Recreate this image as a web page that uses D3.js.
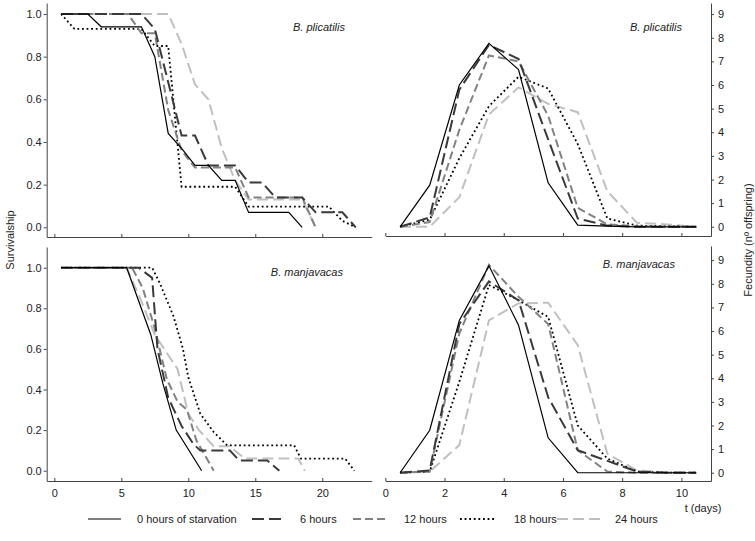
<!DOCTYPE html>
<html>
<head>
<meta charset="utf-8">
<script src="https://cdn.jsdelivr.net/npm/d3@7"></script>
<style>
  body { margin: 0; background: #fff; }
  text { font-family: "Liberation Sans", Arial, sans-serif; }
  .axis path, .axis line { stroke: #444; stroke-width: 1; }
  .axis text { fill: #222; font-size: 11px; }
</style>
</head>
<body>
<script>
// groups (hours of starvation)
var groups = ["0 hours of starvation", "6 hours", "12 hours", "18 hours", "24 hours"];

// survivalship, B. plicatilis: one value per day, first at t = 0.5
var survPlic0 = [1, 1, 1, 0.94, 0.94, 0.94, 0.94, 0.8, 0.44, 0.37, 0.29, 0.29, 0.22, 0.22, 0.07, 0.07, 0.07, 0.07, 0];
var survPlic6 = [1, 1, 1, 1, 1, 1, 1, 0.93, 0.68, 0.43, 0.43, 0.29, 0.29, 0.29, 0.21, 0.21, 0.14, 0.14, 0.14, 0.07, 0.07, 0.07, 0];
var survPlic12 = [1, 1, 1, 1, 1, 1, 0.91, 0.91, 0.55, 0.36, 0.28, 0.28, 0.28, 0.28, 0.14, 0.14, 0.14, 0.14, 0.14, 0];
var survPlic18 = [1, 0.93, 0.93, 0.93, 0.93, 0.93, 0.93, 0.85, 0.85, 0.19, 0.19, 0.19, 0.19, 0.19, 0.097, 0.097, 0.097, 0.097, 0.097, 0.097, 0.097, 0.03, 0];
var survPlic24 = [1, 1, 1, 1, 1, 1, 1, 1, 1, 0.86, 0.67, 0.6, 0.37, 0.22, 0.13, 0.13, 0.13, 0.13, 0.13, 0];

// survivalship, B. manjavacas: [day, survival]
var survManj0 = [[0.5, 1], [5.4, 1], [7.2, 0.67], [8.1, 0.43], [9.1, 0.2], [11.0, 0]];
var survManj6 = [[0.5, 1], [6.3, 1], [7.3, 0.95], [7.7, 0.6], [8.5, 0.36], [9.5, 0.22], [10.4, 0.13], [10.9, 0.1], [13.1, 0.1], [13.8, 0.05], [15.9, 0.05], [16.8, 0]];
var survManj12 = [[0.5, 1], [5.8, 1], [6.6, 0.9], [7.5, 0.7], [8.4, 0.45], [9.2, 0.34], [9.9, 0.3], [10.6, 0.15], [11.9, 0]];
var survManj18 = [[0.5, 1], [7.3, 1], [7.9, 0.92], [8.9, 0.76], [9.6, 0.6], [10.0, 0.46], [10.9, 0.28], [11.9, 0.19], [12.9, 0.125], [17.9, 0.125], [18.4, 0.06], [21.7, 0.06], [22.4, 0]];
var survManj24 = [[0.5, 1], [5.4, 1], [6.4, 0.85], [7.5, 0.67], [8.4, 0.58], [9.2, 0.5], [10.0, 0.28], [10.8, 0.2], [11.9, 0.12], [13.1, 0.12], [14.2, 0.06], [18.2, 0.06], [18.7, 0]];

// fecundity (offspring per female)
var fecDays = [0.5, 1.5, 2.5, 3.5, 4.5, 5.5, 6.5, 7.5, 8.5, 9.5, 10.5];
var fecPlic0 = [0, 1.76, 6.0, 7.76, 6.65, 1.86, 0.07, 0.03, 0, 0, 0];
var fecPlic6 = [0, 0.4, 5.8, 7.7, 7.1, 3.7, 0.35, 0.05, 0, 0, 0];
var fecPlic12 = [0, 0.2, 4.1, 7.25, 7.0, 4.7, 0.8, 0.1, 0.02, 0, 0];
var fecPlic18 = [0, 0.3, 2.9, 5.1, 6.35, 5.85, 3.5, 0.35, 0.05, 0.02, 0];
var fecPlic24 = [0, 0, 1.25, 4.75, 5.9, 5.2, 4.85, 1.5, 0.17, 0.1, 0];

var fecManj0 = [0, 1.8, 6.45, 8.76, 6.25, 1.48, 0, 0, 0, 0, 0];
var fecManj6 = [0, 0.1, 6.3, 8.1, 7.3, 3.2, 0.95, 0.5, 0.05, 0, 0];
var fecManj12 = [0, 0.05, 5.9, 8.8, 7.45, 6.3, 0.95, 0.05, 0, 0, 0];
var fecManj18 = [0, 0.05, 3.85, 7.95, 7.3, 6.6, 2.0, 0.6, 0.05, 0, 0];
var fecManj24 = [0, 0.05, 1.17, 6.45, 7.17, 7.2, 5.4, 0.8, 0.1, 0.02, 0];

var survTicks = [0, 0.2, 0.4, 0.6, 0.8, 1.0];
var survDayTicks = [0, 5, 10, 15, 20];
var fecTicks = [0, 1, 2, 3, 4, 5, 6, 7, 8, 9];
var fecDayTicks = [0, 2, 4, 6, 8, 10];

// line look for each group
var lineStyles = [
  { color: "#000", width: 1.2, dash: null },
  { color: "#3a3a3a", width: 2, dash: "12,5" },
  { color: "#828282", width: 2, dash: "8,4" },
  { color: "#000", width: 1.8, dash: "1.8,2.8" },
  { color: "#c0c0c0", width: 2, dash: "11,5" }
];

var width = 755, height = 541;

var svg = d3.select("body").append("svg")
  .attr("width", width)
  .attr("height", height);

svg.append("rect").attr("width", width).attr("height", height).attr("fill", "#fff");

// scales
var xL = d3.scaleLinear().domain([-0.57, 23.69]).range([46.7, 371.7]);
var xR = d3.scaleLinear().domain([0, 11]).range([385.3, 711]);
var yTL = d3.scaleLinear().domain([-0.0455, 1.0516]).range([237, 3]);
var yBL = d3.scaleLinear().domain([-0.0507, 1.102]).range([481, 247]);
var yTR = d3.scaleLinear().domain([-0.39, 9.47]).range([236, 3]);
var yBR = d3.scaleLinear().domain([-0.35, 9.6]).range([481, 246]);

function halfDays(values) {
  return values.map(function (v, i) { return [0.5 + i, v]; });
}

function drawSeries(g, x, y, series) {
  var line = d3.line()
    .x(function (d) { return x(d[0]); })
    .y(function (d) { return y(d[1]); });

  // draw the pale ones first so black stays on top
  [4, 3, 2, 1, 0].forEach(function (i) {
    var st = lineStyles[i];
    g.append("path")
      .datum(series[i])
      .attr("fill", "none")
      .attr("stroke", st.color)
      .attr("stroke-width", st.width)
      .attr("stroke-dasharray", st.dash)
      .attr("d", line);
  });
}

// ---- survivalship panels
var gTL = svg.append("g");
gTL.append("g").attr("class", "axis")
  .attr("transform", "translate(0,237)")
  .call(d3.axisBottom(xL).tickValues(survDayTicks).tickSizeInner(-3).tickSizeOuter(0).tickFormat(""));
gTL.append("g").attr("class", "axis")
  .attr("transform", "translate(46.7,0)")
  .call(d3.axisLeft(yTL).tickValues(survTicks).tickSizeInner(3).tickSizeOuter(0).tickPadding(2).tickFormat(d3.format(".1f")));
drawSeries(gTL, xL, yTL, [survPlic0, survPlic6, survPlic12, survPlic18, survPlic24].map(halfDays));

var gBL = svg.append("g");
gBL.append("g").attr("class", "axis")
  .attr("transform", "translate(0,481)")
  .call(d3.axisBottom(xL).tickValues(survDayTicks).tickSizeInner(-3).tickSizeOuter(0).tickPadding(8));
gBL.append("g").attr("class", "axis")
  .attr("transform", "translate(46.7,0)")
  .call(d3.axisLeft(yBL).tickValues(survTicks).tickSizeInner(3).tickSizeOuter(0).tickPadding(2).tickFormat(d3.format(".1f")));
drawSeries(gBL, xL, yBL, [survManj0, survManj6, survManj12, survManj18, survManj24]);

// ---- fecundity panels
function withDays(values) {
  return values.map(function (v, i) { return [fecDays[i], v]; });
}

var gTR = svg.append("g");
gTR.append("g").attr("class", "axis")
  .attr("transform", "translate(0,236)")
  .call(d3.axisBottom(xR).tickValues(fecDayTicks).tickSizeInner(-3).tickSizeOuter(0).tickFormat(""));
gTR.append("g").attr("class", "axis")
  .attr("transform", "translate(711,0)")
  .call(d3.axisRight(yTR).tickValues(fecTicks).tickSizeInner(3).tickSizeOuter(0).tickPadding(4));
drawSeries(gTR, xR, yTR, [fecPlic0, fecPlic6, fecPlic12, fecPlic18, fecPlic24].map(withDays));

var gBR = svg.append("g");
gBR.append("g").attr("class", "axis")
  .attr("transform", "translate(0,481)")
  .call(d3.axisBottom(xR).tickValues(fecDayTicks).tickSizeInner(-3).tickSizeOuter(0).tickPadding(8));
gBR.append("g").attr("class", "axis")
  .attr("transform", "translate(711,0)")
  .call(d3.axisRight(yBR).tickValues(fecTicks).tickSizeInner(3).tickSizeOuter(0).tickPadding(4));
drawSeries(gBR, xR, yBR, [fecManj0, fecManj6, fecManj12, fecManj18, fecManj24].map(withDays));

// ---- species names
var species = [
  { text: "B. plicatilis", x: 345, y: 31 },
  { text: "B. plicatilis", x: 682, y: 31 },
  { text: "B. manjavacas", x: 343, y: 276 },
  { text: "B. manjavacas", x: 675, y: 268 }
];
svg.selectAll(".species")
  .data(species)
  .enter()
  .append("text")
  .attr("class", "species")
  .attr("x", function (d) { return d.x; })
  .attr("y", function (d) { return d.y; })
  .attr("text-anchor", "end")
  .style("font-size", "11px")
  .style("font-style", "italic")
  .attr("fill", "#222")
  .text(function (d) { return d.text; });

// ---- axis titles
svg.append("text")
  .attr("transform", "translate(14,240) rotate(-90)")
  .attr("text-anchor", "middle")
  .style("font-size", "11px")
  .attr("fill", "#222")
  .text("Survivalship");

svg.append("text")
  .attr("transform", "translate(752,240) rotate(-90)")
  .attr("text-anchor", "middle")
  .style("font-size", "11px")
  .attr("fill", "#222")
  .text("Fecundity (nº offspring)");

svg.append("text")
  .attr("x", 703)
  .attr("y", 512)
  .attr("text-anchor", "middle")
  .style("font-size", "11px")
  .attr("fill", "#222")
  .text("t (days)");

// ---- legend
var legendPos = [
  { x1: 88, x2: 121, tx: 137 },
  { x1: 252, x2: 285, tx: 300 },
  { x1: 353, x2: 389, tx: 404 },
  { x1: 460, x2: 494, tx: 514 },
  { x1: 557, x2: 600, tx: 615 }
];
var legend = svg.append("g").attr("class", "legend");
var items = legend.selectAll(".legend-item")
  .data(groups)
  .enter()
  .append("g")
  .attr("class", "legend-item");

items.append("line")
  .attr("x1", function (d, i) { return legendPos[i].x1; })
  .attr("x2", function (d, i) { return legendPos[i].x2; })
  .attr("y1", 519)
  .attr("y2", 519)
  .attr("stroke", function (d, i) { return lineStyles[i].color; })
  .attr("stroke-width", function (d, i) { return lineStyles[i].width; })
  .attr("stroke-dasharray", function (d, i) { return lineStyles[i].dash; });

items.append("text")
  .attr("x", function (d, i) { return legendPos[i].tx; })
  .attr("y", 523)
  .style("font-size", "11px")
  .attr("fill", "#222")
  .text(function (d) { return d; });
</script>
</body>
</html>
